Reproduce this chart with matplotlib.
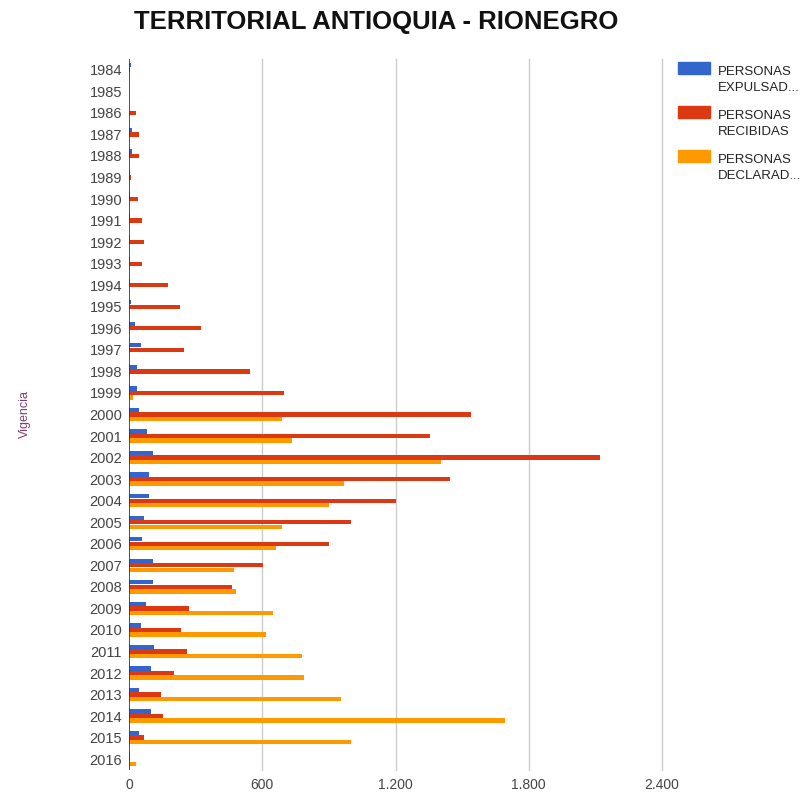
import matplotlib
matplotlib.use("Agg")
import matplotlib.pyplot as plt
from matplotlib.patches import Rectangle
from matplotlib.ticker import FuncFormatter
import numpy as np

plt.rcParams['font.family'] = ['Liberation Sans', 'DejaVu Sans']

years = list(range(1984, 2017))
expulsadas = [8, 0, 0, 15, 15, 5, 3, 5, 5, 5, 5, 10, 28, 52, 37, 37, 45, 82, 107, 91,
              91, 67, 60, 107, 107, 77, 52, 114, 99, 45, 99, 45, 5]
recibidas = [4, 0, 30, 45, 45, 8, 42, 60, 69, 60, 177, 230, 325, 248, 545, 699, 1539, 1357,
             2121, 1445, 1204, 1000, 900, 604, 465, 270, 233, 262, 203, 144, 155, 68, 5]
declaradas = [0, 0, 0, 0, 0, 0, 0, 0, 0, 0, 0, 0, 0, 0, 0, 20, 689, 735, 1407, 969,
              900, 690, 660, 474, 480, 649, 616, 781, 790, 955, 1693, 999, 30]
series_labels = ["PERSONAS\nEXPULSAD...", "PERSONAS\nRECIBIDAS", "PERSONAS\nDECLARAD..."]
colors = ["#3366CC", "#DC3912", "#FF9900"]
xticks = [0, 600, 1200, 1800, 2400]

fig = plt.figure(figsize=(8.09, 7.96), dpi=100)
ax = fig.add_axes([0.1595, 0.0327, 0.8183 - 0.1595, 0.9259 - 0.0327])

y = np.arange(len(years))
bh = 0.2
off = 0.21
for vals, c, o in zip([expulsadas, recibidas, declaradas], colors, [-off, 0, off]):
    ax.barh(y + o, vals, height=bh, color=c, zorder=3)

ax.set_ylim(len(years) - 0.5, -0.5)
ax.set_xlim(0, 2400)
ax.set_yticks(y)
ax.set_yticklabels([str(v) for v in years], fontsize=10.5, color="#444444")
ax.set_xticks(xticks)
ax.xaxis.set_major_formatter(FuncFormatter(lambda v, p: f"{int(v):,}".replace(",", ".")))
ax.tick_params(axis='x', labelsize=10, labelcolor="#444444", length=0, pad=6)
ax.tick_params(axis='y', length=0, pad=5)
for s in ax.spines.values():
    s.set_visible(False)
for t in xticks[1:]:
    ax.axvline(t, color="#cccccc", linewidth=1, zorder=0, clip_on=False)
ax.axvline(0, color="#333333", linewidth=1.2, zorder=4)

ax.set_ylabel("Vigencia", fontsize=9, color="#7f3f6f", labelpad=42)

fig.text(0.465, 0.972, "TERRITORIAL ANTIOQUIA - RIONEGRO", ha="center", va="center",
         fontsize=18.5, fontweight="bold", color="#111111")

# legend
W, H = 809, 796
leg_y = [68, 112, 156]
for lab, c, yy in zip(series_labels, colors, leg_y):
    fig.patches.append(Rectangle((678 / W, 1 - (yy + 6) / H), 32 / W, 12 / H,
                                 transform=fig.transFigure, color=c))
    fig.text(718 / W, 1 - (yy - 2) / H, lab, ha="left", va="top", fontsize=9.5,
             color="#222222", linespacing=1.45)

fig.savefig("out.png", dpi=100)
